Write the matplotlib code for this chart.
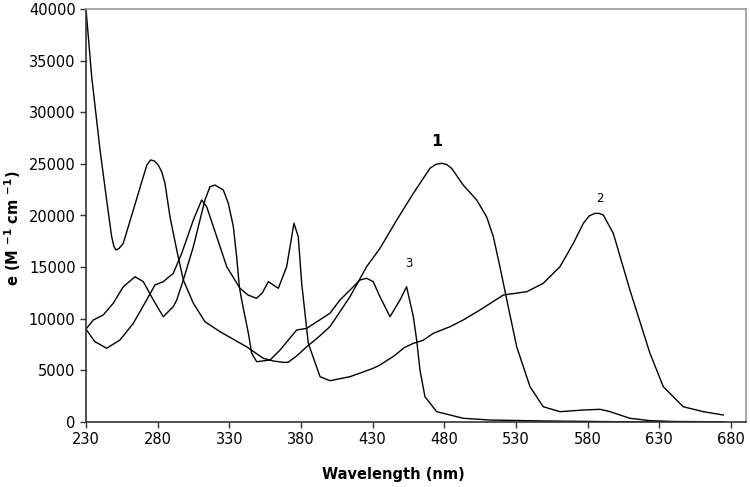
import numpy as np
import matplotlib
matplotlib.use("Agg")
import matplotlib.pyplot as plt

plt.rcParams['font.family'] = ['DejaVu Sans']
plt.rcParams['mathtext.default'] = 'bf'

# curve 1
c1_x = [230, 234, 239.8, 244.4, 247.9, 249.5, 250.9, 253, 256, 263, 270, 272.5, 275.1, 277.5,
        280.4, 282.8, 285.1, 288.6, 293.3, 297.9, 304.9, 313, 323.5, 342, 353.7, 361, 367.7,
        371, 377, 384, 392, 400.2, 414.2, 425.8, 435.1, 446.8, 458.4, 470, 474, 478.2, 481.5,
        485.1, 493.2, 502.6, 509.5, 514.2, 518.8, 524.6, 530.5, 539.8, 549, 560.7, 577, 588.6,
        595.6, 609.5, 623.5, 640, 675]
c1_y = [40000, 33400, 26340, 21500, 17950, 17000, 16660, 16800, 17300, 20530, 23760, 24900, 25375, 25300,
        24890, 24240, 23120, 19880, 16660, 13750, 11500, 9714, 8745, 7290, 6170, 5900, 5780,
        5780, 6400, 7290, 8200, 9230, 12135, 15040, 16820, 19560, 22150, 24570, 24950, 25055, 24950,
        24570, 22950, 21500, 19880, 17950, 15040, 11170, 7290, 3420, 1480, 1000, 1160, 1230,
        1000, 360, 130, 50, 20]

# curve 2
c2_x = [230, 236, 244.4, 253.7, 263, 272.3, 278.1, 283.9, 290.9, 296.8, 304.9, 310.7, 314.2,
        321.2, 328.2, 337.4, 343, 349, 353, 357.2, 364.2, 370, 375.1, 378.1, 380.5, 385.1, 393.3,
        400.2, 414.2, 430.4, 435.1, 445, 452, 458.4, 465, 472.3, 484, 493.2, 504.9, 521.2, 537.5,
        549, 560.7, 570, 577, 581, 585.1, 588, 590.9, 597.9, 609.5, 623.5, 632.8, 646.7, 660.7, 674.6]
c2_y = [9000, 7800, 7140, 7940, 9560, 11815, 13270, 13590, 14400, 16340, 19560, 21500, 20850,
        17950, 15040, 12950, 12300, 11980, 12500, 13590, 12950, 15040, 19245, 17950, 13430, 7620, 4390,
        4000, 4390, 5200, 5520, 6400, 7200, 7620, 7900, 8590, 9230, 9880, 10850, 12300, 12620,
        13430, 15040, 17300, 19245, 19950, 20210, 20200, 20050, 18275, 12784, 6650, 3420, 1480, 1000, 680]

# curve 3
c3_x = [230, 235.1, 242, 249, 256, 264.2, 270, 277, 283.9, 290.9, 293.3, 297.9, 304.9, 309.5,
        313, 316.5, 320, 325.8, 329.3, 332.8, 335.1, 337, 338.6, 343.3, 345.6, 349.1, 358.4,
        365.4, 377, 384, 400.2, 407.2, 414.2, 421.2, 425.8, 430.4, 435.1, 442.1, 449.1, 453.7,
        458.4, 460.7, 463, 466.5, 474.7, 493.2, 511.9, 550, 600, 640, 675]
c3_y = [9000, 9880, 10360, 11500, 13100, 14070, 13590, 11815, 10200, 11170, 11815, 13750, 16980, 19560,
        21500, 22790, 22950, 22470, 21180, 18920, 16010, 13100, 11815, 8590, 6650, 5840, 6000,
        6970, 8910, 9070, 10530, 11815, 12780, 13750, 13920, 13590, 12135, 10200, 11815, 13100,
        10200, 7940, 5036, 2450, 1000, 360, 190, 100, 30, 0, 0]

labels = ['1', '2', '3']
label_x = [474.9, 588.6, 455.3]
label_y = [26400, 21000, 14700]

fig = plt.figure(figsize=(7.5, 4.87), dpi=100)
ax = fig.add_axes([86 / 750, 65 / 487, 660 / 750, 413 / 487])

for xs, ys in [(c1_x, c1_y), (c2_x, c2_y), (c3_x, c3_y)]:
    ax.plot(xs, ys, color='black', lw=1.0)

ax.text(label_x[0], label_y[0], labels[0], fontsize=11.5, fontweight='bold', ha='center', va='bottom')
ax.text(label_x[1], label_y[1], labels[1], fontsize=8.5, ha='center', va='bottom', family='Liberation Sans Narrow')
ax.text(label_x[2], label_y[2], labels[2], fontsize=8.5, ha='center', va='bottom', family='Liberation Sans Narrow')

ax.set_xlim(230, 690.5)
ax.set_ylim(0, 40000)
ax.set_xticks(np.arange(230, 681, 50))
ax.set_yticks(np.arange(0, 40001, 5000))
ax.tick_params(direction='out', length=4, width=1, labelsize=10.5, color='#333333')

for s in ['left', 'bottom']:
    ax.spines[s].set_color('#333333')
    ax.spines[s].set_linewidth(1.2)
for s in ['top', 'right']:
    ax.spines[s].set_color('#999999')
    ax.spines[s].set_linewidth(1.2)

ax.set_xlabel('Wavelength (nm)', fontsize=10.5, fontweight='bold')
ax.xaxis.set_label_coords((393 - 86) / 660, -0.109)
ax.set_ylabel(r'e (M $^{-1}$ cm $^{-1}$)', fontsize=10.5, fontweight='bold')
ax.yaxis.set_label_coords(-63 / 660, 0.47)

fig.savefig('out.png', dpi=100)
